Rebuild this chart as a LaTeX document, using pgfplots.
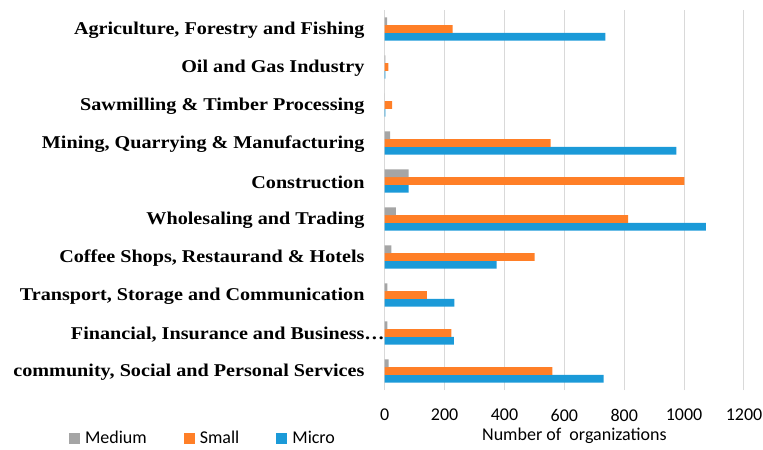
\documentclass[border=0pt]{standalone}
\usepackage{pgfplots}
\pgfplotsset{compat=1.18}
\usepackage{fontspec}
\setmainfont{Liberation Serif}
\newfontfamily\catfont{Liberation Serif}[FakeStretch=1.12]
\newfontfamily\calfont{Carlito}
\definecolor{cMed}{HTML}{A5A5A5}
\definecolor{cSmall}{HTML}{FF7F27}
\definecolor{cMicro}{HTML}{1B9AD8}
\definecolor{cGrid}{HTML}{D9D9D9}
\begin{document}
\begin{tikzpicture}
\begin{axis}[
  scale only axis,
  width=359.3pt, height=380pt,
  xbar=0pt, bar width=7.7pt,
  xmin=0, xmax=1200,
  ymin=-0.5, ymax=9.5,
  xtick={0,200,400,600,800,1000,1200},
  ytick={0,...,9},
  yticklabels={
    {community, Social and Personal Services},
    {Financial, Insurance and Business\rlap{…}},
    {Transport, Storage and Communication},
    {Coffee Shops, Restaurand \& Hotels},
    {Wholesaling and Trading},
    {Construction},
    {Mining, Quarrying \& Manufacturing},
    {Sawmilling \& Timber Processing},
    {Oil and Gas Industry},
    {Agriculture, Forestry and Fishing}},
  axis line style={draw=none},
  major tick length=0pt,
  tick style={draw=none},
  xmajorgrids,
  grid style={cGrid, line width=1pt},
  /pgf/number format/assume math mode=true,
  /pgf/number format/set thousands separator={},
  xticklabel style={font=\calfont\fontsize{18}{20}\selectfont, anchor=north, inner sep=0pt, yshift=-19pt},
  yticklabel style={font=\catfont\bfseries\fontsize{18}{20}\selectfont, anchor=east, inner sep=0pt, xshift=-20pt, yshift=-1.5pt},
  xlabel={Number of\ \ organizations},
  xlabel style={font=\calfont\fontsize{18}{20}\selectfont, at={(rel axis cs:0.528,0)}, anchor=center, yshift=-46pt, inner sep=0pt},
  legend columns=-1,
  reverse legend,
  legend style={at={(rel axis cs:-0.879,-0.127)}, anchor=west, draw=none, fill=none,
    inner sep=0pt, font=\calfont\fontsize{18}{20}\selectfont,
    /tikz/every odd column/.append style={column sep=5pt},
    /tikz/every even column/.append style={column sep=37pt},
    nodes={inner sep=0pt}},
  legend image code/.code={\fill[#1] (0pt,-5.5pt) rectangle (11pt,5.5pt);},
  clip=false,
]
\addplot[fill=cMicro, draw=none] coordinates {
 (731,0) (231,1) (233,2) (374,3) (1073,4) (80,5) (974,6) (2,7) (2,8) (737,9)};
\addplot[fill=cSmall, draw=none] coordinates {
 (560,0) (223,1) (141,2) (501,3) (813,4) (1001,5) (554,6) (25,7) (12,8) (227,9)};
\addplot[fill=cMed, draw=none] coordinates {
 (13,0) (9,1) (9,2) (22,3) (37,4) (80,5) (18,6) (0,7) (2,8) (8,9)};
\legend{Micro, Small, Medium}
\end{axis}
\path ([shift={(-384.7pt,-59pt)}]current axis.south west) rectangle ([shift={(19pt,10pt)}]current axis.north east);
\end{tikzpicture}
\end{document}
